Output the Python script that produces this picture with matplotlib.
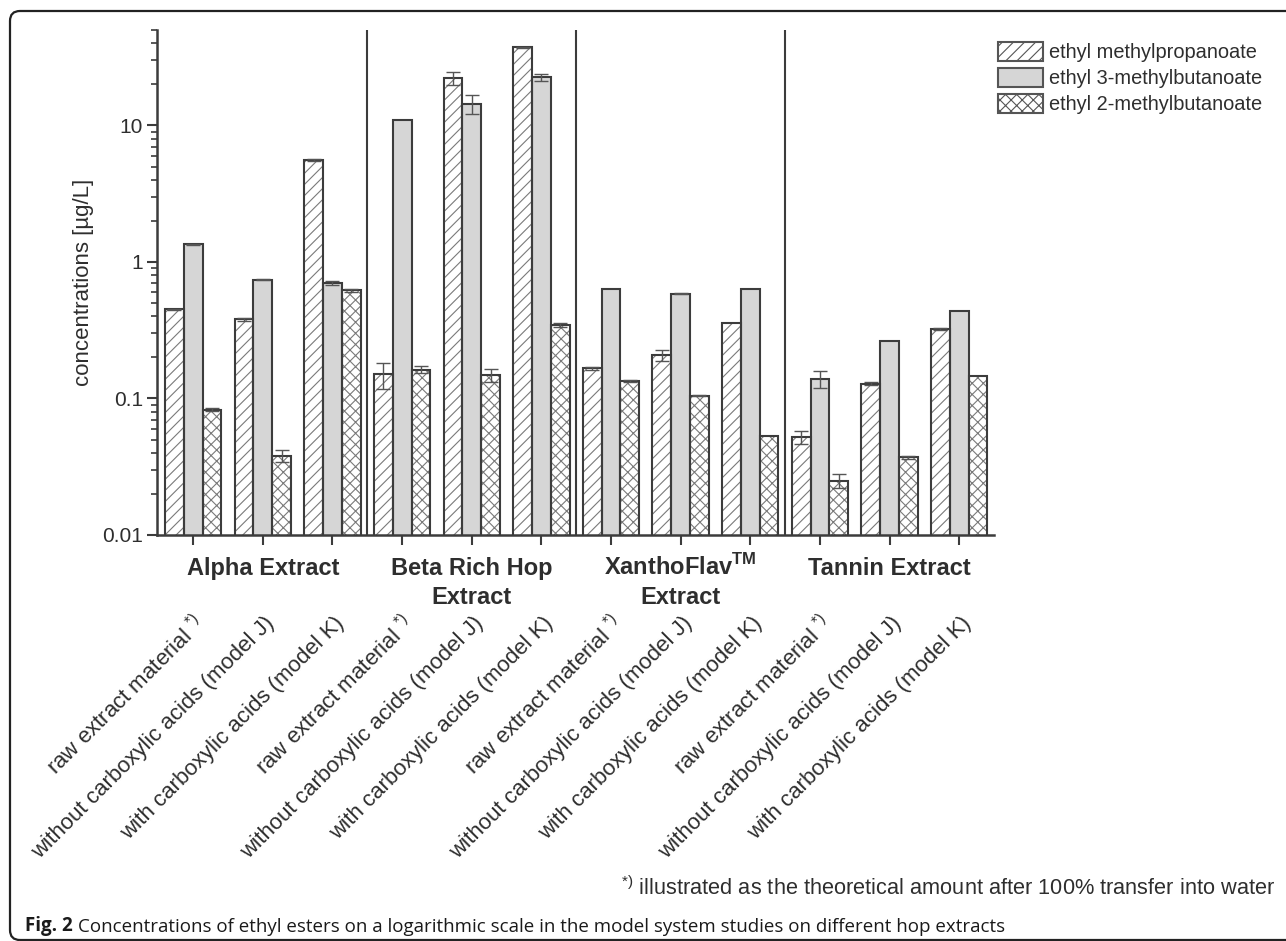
import matplotlib
matplotlib.use('Agg')
import matplotlib.pyplot as plt
import matplotlib.transforms as mtransforms
from matplotlib.patches import FancyBboxPatch, Patch
from matplotlib.ticker import LogLocator, FixedLocator, FixedFormatter, NullFormatter
import numpy as np

plt.rcParams['font.family'] = ['Liberation Sans', 'DejaVu Sans']
plt.rcParams['mathtext.fontset'] = 'custom'
plt.rcParams['mathtext.rm'] = 'Liberation Sans'
plt.rcParams['mathtext.bf'] = 'Liberation Sans:bold'
plt.rcParams['hatch.linewidth'] = 0.8

sample_labels = [r'raw extract material $^{\mathregular{*)}}$',
                 'without carboxylic acids (model J)',
                 'with carboxylic acids (model K)'] * 4
extract_names = ['Alpha Extract', 'Beta Rich Hop\nExtract',
                 r'XanthoFlav$^{\mathbf{TM}}$' + '\nExtract', 'Tannin Extract']
series_names = ['ethyl methylpropanoate', 'ethyl 3-methylbutanoate', 'ethyl 2-methylbutanoate']

methylpropanoate = [0.45, 0.38, 5.6, 0.15, 22.3, 37.3, 0.166, 0.207, 0.36, 0.052, 0.128, 0.324]
methylpropanoate_err = [0.006, 0.008, 0.1, 0.032, 2.4, 0.5, 0.003, 0.02, 0.0, 0.0055, 0.003, 0.006]
methylbutanoate_3 = [1.35, 0.74, 0.70, 11.0, 14.4, 22.6, 0.63, 0.584, 0.63, 0.14, 0.262, 0.434]
methylbutanoate_3_err = [0.015, 0.008, 0.02, 0.0, 2.3, 1.3, 0.0, 0.006, 0.0, 0.02, 0.0, 0.0]
methylbutanoate_2 = [0.083, 0.038, 0.62, 0.163, 0.148, 0.347, 0.135, 0.105, 0.053, 0.025, 0.037, 0.146]
methylbutanoate_2_err = [0.002, 0.004, 0.015, 0.01, 0.016, 0.012, 0.002, 0.001, 0.0, 0.003, 0.001, 0.0]

footnote = 'illustrated as the theoretical amount after 100% transfer into water'
caption_bold = 'Fig. 2'
caption_text = 'Concentrations of ethyl esters on a logarithmic scale in the model system studies on different hop extracts'

text_color = '#2e2e2e'
edge = '#3c3c3c'

fig = plt.figure(figsize=(12.86, 9.41), dpi=100)
ax = fig.add_axes([157/1286, 1 - 535/941, 837/1286, 505/941])

x = np.arange(len(methylpropanoate))
w = 0.27
series = [(methylpropanoate, methylpropanoate_err, 'white', '///'),
          (methylbutanoate_3, methylbutanoate_3_err, '#d6d6d6', None),
          (methylbutanoate_2, methylbutanoate_2_err, 'white', 'xxx')]

handles = []
for k, (vals, err, fc, hatch) in enumerate(series):
    pos = x + (k - 1) * w
    vals = np.array(vals)
    err = np.array(err)
    if hatch:
        ax.bar(pos, vals, w, color=fc, edgecolor='#7a7a7a', hatch=hatch, linewidth=0, zorder=2)
    else:
        ax.bar(pos, vals, w, color=fc, linewidth=0, zorder=2)
    ax.bar(pos, vals, w, fill=False, edgecolor=edge, linewidth=1.5, zorder=3)
    m = err > 0
    ax.errorbar(pos[m], vals[m], yerr=err[m], fmt='none', ecolor='#555555',
                elinewidth=1, capsize=5, capthick=1, zorder=4)
    handles.append(Patch(facecolor=fc, edgecolor='#555555', hatch=hatch, linewidth=1.5,
                         label=series_names[k]))

ax.set_yscale('log')
ax.set_ylim(0.01, 50)
ax.set_xlim(-0.52, 11.5)

for sep in [2.5, 5.5, 8.5]:
    ax.axvline(sep, color=edge, linewidth=1.5, zorder=1)

for s in ['top', 'right']:
    ax.spines[s].set_visible(False)
for s in ['left', 'bottom']:
    ax.spines[s].set_color(edge)
    ax.spines[s].set_linewidth(1.8)

ax.yaxis.set_major_locator(FixedLocator([0.01, 0.1, 1, 10]))
ax.yaxis.set_major_formatter(FixedFormatter(['0.01', '0.1', '1', '10']))
ax.yaxis.set_minor_locator(LogLocator(base=10, subs=np.arange(2, 10)))
ax.yaxis.set_minor_formatter(NullFormatter())
ax.tick_params(axis='y', which='major', length=7, width=1.5, color=edge,
               labelsize=15, labelcolor=text_color, pad=3)
ax.tick_params(axis='y', which='minor', length=4, width=1.2, color=edge)
ax.set_xticks(x)
ax.tick_params(axis='x', length=7, width=1.5, color=edge, labelbottom=False)

ax.set_ylabel('concentrations [µg/L]', fontsize=16, color=text_color)
ax.yaxis.set_label_coords(-0.075, 0.5)

# group names below the axis, one line at a time so baselines line up
for g, name in enumerate(extract_names):
    for j, line in enumerate(name.split('\n')):
        ax.annotate(line, xy=(3 * g + 1, 0), xycoords=('data', 'axes fraction'),
                    xytext=(0, -29 - 20.5 * j), textcoords='offset points',
                    ha='center', va='baseline', fontsize=17, fontweight='bold',
                    color=text_color)

# rotated sample labels
for i, lab in enumerate(sample_labels):
    ax.annotate(lab, xy=(i, 0), xycoords=('data', 'axes fraction'),
                xytext=(6, -61), textcoords='offset points', rotation=45,
                rotation_mode='anchor', ha='right', va='center',
                fontsize=16, color=text_color)

fig.legend(handles=handles, loc='upper left', bbox_to_anchor=(998/1286, 1 - 42/941),
           frameon=False, fontsize=14.4, handlelength=2.25, handleheight=1.05,
           labelspacing=0.3, handletextpad=0.3, borderpad=0, borderaxespad=0,
           labelcolor=text_color)

fig.text(1275/1286, 1 - 888/941, r'$^{\mathregular{*)}}$ ' + footnote, ha='right', va='center',
         fontsize=15.7, color=text_color)

t1 = fig.text(25/1286, 1 - 926/941, caption_bold, ha='left', va='center',
              fontsize=13.5, fontweight='bold', color='#1a1a1a', family='Open Sans')
fig.canvas.draw()
bb = t1.get_window_extent()
fig.text((bb.x1 + 5) / 1286, bb.y0 / 941, caption_text, ha='left', va='bottom',
         fontsize=13.5, color='#1a1a1a', family='Open Sans')

border = FancyBboxPatch((10, 1), 1400, 929, boxstyle='round,pad=0,rounding_size=10',
                        transform=mtransforms.IdentityTransform(), facecolor='none',
                        edgecolor='#222222', linewidth=1.6)
fig.add_artist(border)

fig.savefig('out.png', dpi=100)
